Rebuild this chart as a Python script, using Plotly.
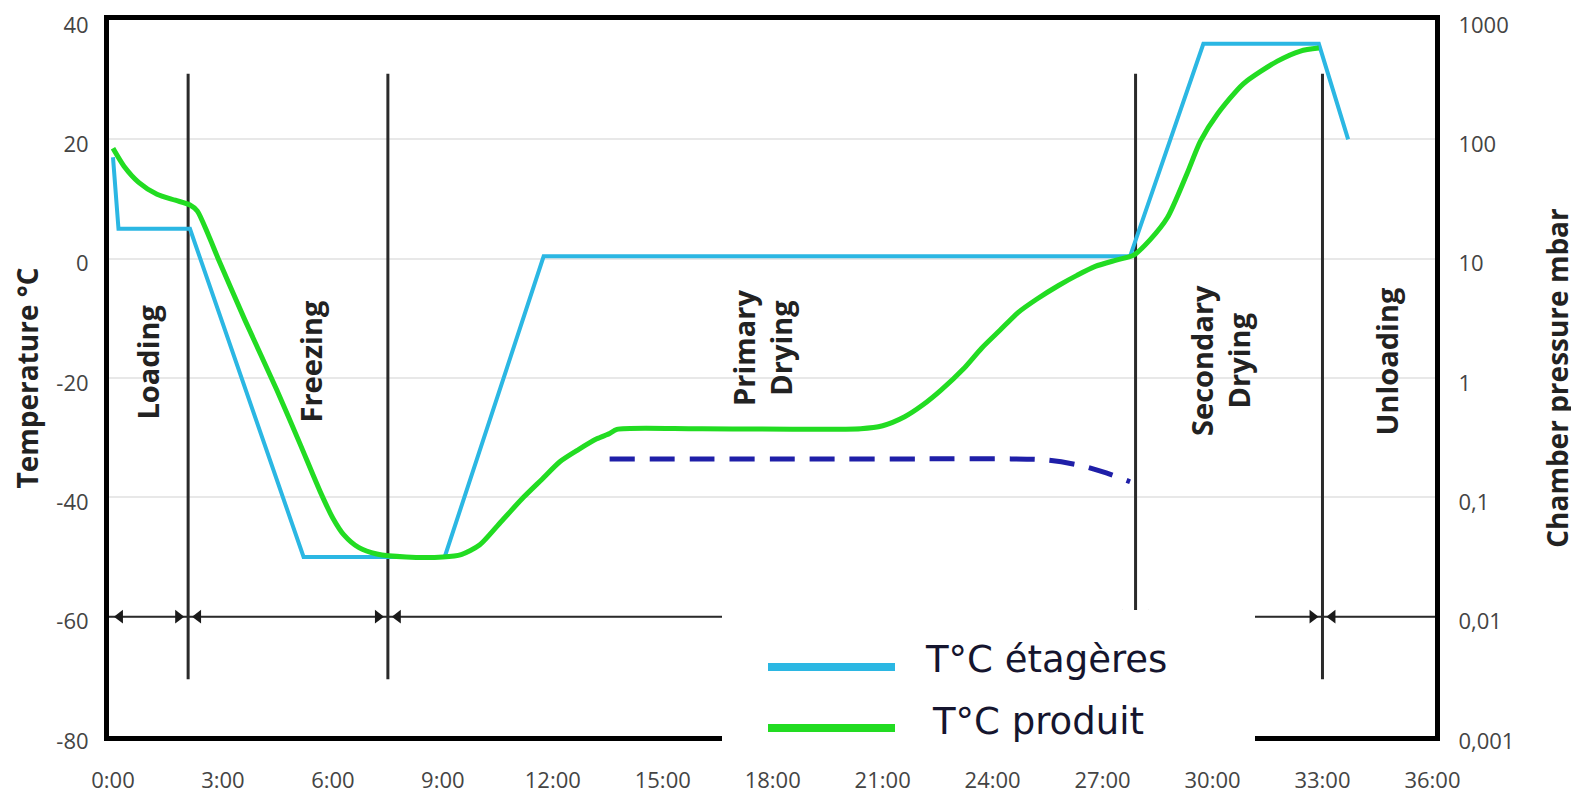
import math
import plotly.graph_objects as go

# ---------------- data ----------------
# shelf temperature (T°C étagères): hours, °C
shelf_h = [0, 0.15, 2.1, 5.2, 9.05, 11.75, 27.75, 29.75, 32.9, 33.7]
shelf_t = [17, 5, 5, -50, -50, 0.4, 0.4, 36, 36, 20]

# product temperature (T°C produit): hours, °C
prod_h = [0, 0.3, 0.7, 1.2, 1.7, 2.1, 2.3, 2.6, 2.87, 3.6, 4.47, 5.1, 5.65, 6.0, 6.3,
          6.7, 7.2, 8.0, 9.0, 9.5, 10.0, 10.6, 11.2, 11.7, 12.2, 12.7, 13.2, 13.55,
          13.75, 16.0, 20.4, 21.0, 21.6, 22.1, 22.6, 23.2, 23.7, 24.2, 24.7, 25.2,
          25.8, 26.3, 26.8, 27.4, 27.85, 28.3, 28.77, 29.3, 29.67, 30.13, 30.84,
          31.77, 32.4, 32.9]
prod_t = [18.5, 15.5, 12.8, 10.8, 9.8, 9.0, 8.0, 4.0, 0.0, -10.3, -22, -31, -39, -43.5,
          -46.3, -48.4, -49.5, -50, -50, -49.6, -48, -44, -40, -37, -34, -32, -30.2,
          -29.3, -28.6, -28.5, -28.5, -28, -26.5, -24.5, -22, -18.5, -15, -12, -9,
          -6.8, -4.5, -2.8, -1.3, -0.2, 0.6, 3.2, 6.9, 14.2, 19.7, 24.2, 29.3, 33.1,
          34.8, 35.3]

# chamber pressure (mbar)
press_h = [13.55, 16, 19, 22, 24.5, 25.5, 26.4, 27.1, 27.75]
press_mbar = [0.21, 0.21, 0.21, 0.21, 0.21, 0.205, 0.185, 0.16, 0.135]

# phases
phase_bounds = [2.05, 7.5, 27.9, 33.0]
phase_names = ["Loading", "Freezing", "Primary<br>Drying", "Secondary<br>Drying", "Unloading"]
phase_label_h = [0.93, 5.38, 17.7, 30.2, 34.74]
phase_label_t = [-17.4, -17.2, -15.0, -17.0, -17.2]
phase_line_t = [-70.5, 31]
arrow_row_t = -60

# axes
x_ticks = list(range(0, 37, 3))
x_ticktext = [f"{v}:00" for v in x_ticks]
y_ticks = [-80, -60, -40, -20, 0, 20, 40]
y_ticktext = ["-80", "-60", "-40", "-20", "0", "20", "40"]
p_ticks = [0.001, 0.01, 0.1, 1, 10, 100, 1000]
p_ticktext = ["0,001", "0,01", "0,1", "1", "10", "100", "1000"]
x_range = [-0.109, 36.07]
y_range = [-80, 40]

legend_names = ["T°C étagères", "T°C produit"]

# ---------------- style ----------------
BLUE = "#2bb7e3"
GREEN = "#22dc22"
PRESS = "#1f1fa8"
OFF = 8                     # page body margin of the html page
W, H = 1579 - OFF, 795 - OFF
ML, MT = 109 - OFF, 20 - OFF
MR, MB = 144, 59
FONT = "Open Sans"

fig = go.Figure()

fig.add_trace(go.Scatter(x=shelf_h, y=shelf_t, mode="lines", name=legend_names[0],
                         line=dict(color=BLUE, width=4)))
fig.add_trace(go.Scatter(x=prod_h, y=prod_t, mode="lines", name=legend_names[1],
                         line=dict(color=GREEN, width=5, shape="spline", smoothing=0.7)))
fig.add_trace(go.Scatter(x=press_h, y=press_mbar, mode="lines", name="Pression",
                         yaxis="y2",
                         line=dict(color=PRESS, width=5, dash="25px,15px",
                                   shape="spline", smoothing=0.8)))

# phase separators
for b in phase_bounds:
    fig.add_shape(type="line", xref="x", yref="y", x0=b, x1=b,
                  y0=phase_line_t[0], y1=phase_line_t[1],
                  line=dict(color="#2a2a2a", width=3), layer="between")

# arrow row: line + triangle heads
fig.add_trace(go.Scatter(x=x_range, y=[arrow_row_t, arrow_row_t], mode="lines",
                         line=dict(color="#2a2a2a", width=2), hoverinfo="skip"))
plot_w = W - ML - MR
plot_h = H - MT - MB
px_per_h = plot_w / (x_range[1] - x_range[0])
tri = 12
tip = tri / 2 * 2 / math.sqrt(3)
gap = 3
right_x = [b - (gap + tip) / px_per_h for b in phase_bounds]
left_x = [0 + tip / px_per_h] + [b + (gap + tip) / px_per_h for b in phase_bounds]
fig.add_trace(go.Scatter(x=right_x, y=[arrow_row_t] * len(right_x), mode="markers",
                         marker=dict(symbol="triangle-right", size=tri, color="#1a1a1a",
                                     line=dict(width=0)), hoverinfo="skip"))
fig.add_trace(go.Scatter(x=left_x, y=[arrow_row_t] * len(left_x), mode="markers",
                         marker=dict(symbol="triangle-left", size=tri, color="#1a1a1a",
                                     line=dict(width=0)), hoverinfo="skip"))

# phase labels
for name, hx, ty in zip(phase_names, phase_label_h, phase_label_t):
    fig.add_annotation(x=hx, y=ty, xref="x", yref="y", text=name, showarrow=False,
                       textangle=-90,
                       font=dict(family=FONT, size=29, color="#222222", weight="bold"))

# custom legend (white box over the lower part); positions in window pixels
def px_x(p):
    return (p - OFF - ML) / plot_w

def px_y(p):
    return (H - MB - (p - OFF)) / plot_h

fig.add_shape(type="rect", xref="paper", yref="paper",
              x0=px_x(722), x1=px_x(1255), y0=px_y(746), y1=px_y(610),
              fillcolor="white", line=dict(width=0), layer="above")
for col, ly in [(BLUE, 667), (GREEN, 728)]:
    fig.add_shape(type="line", xref="paper", yref="paper",
                  x0=px_x(768), x1=px_x(895), y0=px_y(ly), y1=px_y(ly),
                  line=dict(color=col, width=8), layer="above")
for txt, lx, ly in [(legend_names[0], 923, 659), (legend_names[1], 930, 721)]:
    fig.add_annotation(x=px_x(lx), y=px_y(ly), xref="paper", yref="paper",
                       text=txt, showarrow=False, xanchor="left", yanchor="middle",
                       font=dict(family="DejaVu Sans", size=37, color="#15152e"))

fig.update_layout(
    width=W, height=H,
    margin=dict(l=ML, r=MR, t=MT, b=MB, autoexpand=False),
    plot_bgcolor="white", paper_bgcolor="white",
    showlegend=False,
    font=dict(family=FONT, color="#444444"),
    xaxis=dict(range=x_range, tickvals=x_ticks, ticktext=x_ticktext,
               showgrid=False, zeroline=False, ticklabeloverflow="allow",
               showline=True, linecolor="black", linewidth=5, mirror=True,
               ticks="outside", ticklen=21, tickcolor="rgba(0,0,0,0)",
               tickfont=dict(family=FONT, size=22, color="#444444")),
    yaxis=dict(range=y_range, tickvals=y_ticks, ticktext=y_ticktext,
               showgrid=True, gridcolor="#e8e8e8", gridwidth=2, zeroline=False,
               ticklabeloverflow="allow", ticklabelshift=5,
               showline=True, linecolor="black", linewidth=5, mirror=True,
               ticks="outside", ticklen=11, tickcolor="rgba(0,0,0,0)",
               tickfont=dict(family=FONT, size=22, color="#444444"),
               title=dict(text="Temperature °C", standoff=12,
                          font=dict(family=FONT, size=28, color="#222222", weight="bold"))),
    yaxis2=dict(overlaying="y", side="right", type="log", range=[-3, 3],
                tickvals=p_ticks, ticktext=p_ticktext, ticklabeloverflow="allow",
                ticklabelshift=5,
                showgrid=False, zeroline=False, showline=False,
                ticks="outside", ticklen=18, tickcolor="rgba(0,0,0,0)",
                tickfont=dict(family=FONT, size=22, color="#444444"),
                title=dict(text="Chamber pressure mbar", standoff=34,
                           font=dict(family=FONT, size=28, color="#222222", weight="bold"))),
)

fig.write_html("out.html")
